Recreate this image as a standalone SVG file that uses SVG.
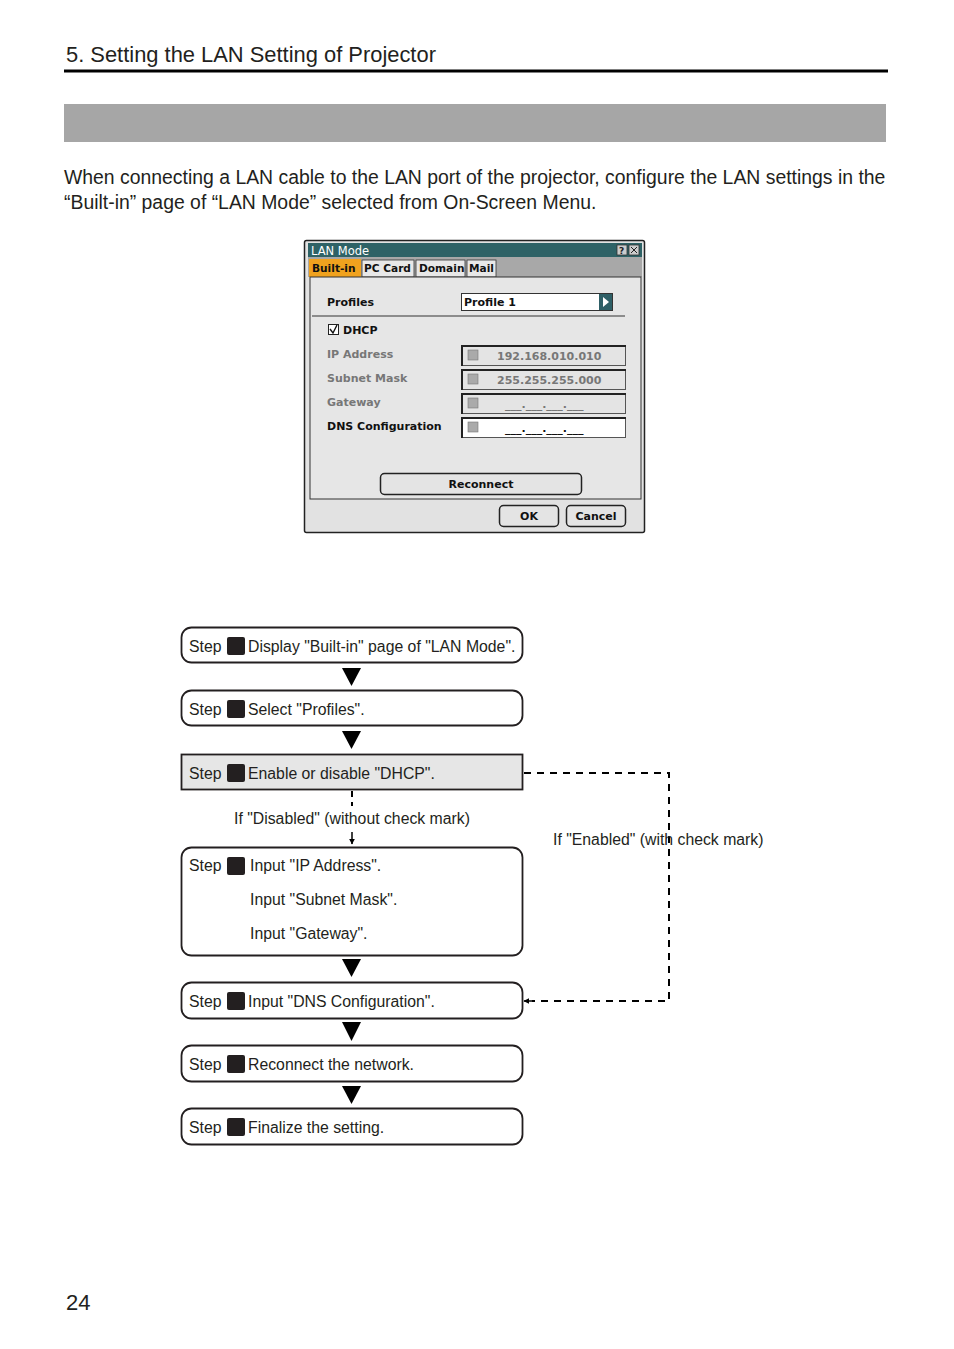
<svg xmlns="http://www.w3.org/2000/svg" width="954" height="1349" viewBox="0 0 954 1349">
<style>
.t{font-family:"Liberation Sans",Arial,sans-serif;fill:#231f20}
.f{font-size:15.8px}
.ui{font-family:"DejaVu Sans","Liberation Sans",sans-serif;font-size:11px;font-weight:bold;fill:#111}
.tab{font-family:"DejaVu Sans","Liberation Sans",sans-serif;font-size:10.6px;font-weight:bold;fill:#111}
.uig{font-family:"DejaVu Sans","Liberation Sans",sans-serif;font-size:11px;fill:#777;font-weight:bold}
.box{fill:#fff;stroke:#231f20;stroke-width:1.8}
.sq{fill:#231f20}
.tri{fill:#000}
.dash{fill:none;stroke:#000;stroke-width:2;stroke-dasharray:7,6}
.fld{fill:#e4e4e4;stroke:#555;stroke-width:1}
</style>
<defs>
<marker id="ah" viewBox="0 0 10 10" refX="9" refY="5" markerWidth="6" markerHeight="6" orient="auto" markerUnits="userSpaceOnUse"><path d="M0,0 L10,5 L0,10 z" fill="#000"/></marker>
</defs>
<rect width="954" height="1349" fill="#fff"/>
<text class="t" x="66" y="62" font-size="21.9">5. Setting the LAN Setting of Projector</text>
<rect x="64" y="69.5" width="824" height="3" fill="#000"/>
<rect x="64" y="104" width="822" height="38" fill="#a6a6a6"/>
<text class="t" x="64" y="184" font-size="19.4">When connecting a LAN cable to the LAN port of the projector, configure the LAN settings in the</text>
<text class="t" x="64" y="209" font-size="19.4">“Built-in” page of “LAN Mode” selected from On-Screen Menu.</text>

<g id="dialog">
<rect x="304.5" y="240.5" width="340" height="292" fill="#e2e2e2" stroke="#222" stroke-width="1.5" rx="2"/>
<rect x="308" y="243" width="334" height="14" fill="#2e6266"/>
<text x="311" y="254.5" font-family="DejaVu Sans,sans-serif" font-size="11.5" fill="#fff">LAN Mode</text>
<rect x="617" y="245" width="10" height="10" fill="#ccc" stroke="#333" stroke-width="0.8"/>
<text x="619" y="254" font-family="DejaVu Sans,sans-serif" font-size="9" font-weight="bold" fill="#222">?</text>
<rect x="629" y="245" width="10" height="10" fill="#ccc" stroke="#333" stroke-width="0.8"/>
<path d="M631,247 L637,253 M637,247 L631,253" stroke="#222" stroke-width="1"/>
<rect x="308" y="257" width="334" height="20" fill="#a8a8a8"/>
<rect x="309" y="259" width="52" height="18" fill="#f0a21e"/>
<text class="tab" x="312" y="272">Built-in</text>
<rect x="362" y="260" width="52" height="17" fill="#e8e8e8" stroke="#333" stroke-width="0.8"/>
<text class="tab" x="364" y="272" font-weight="normal">PC Card</text>
<rect x="416" y="260" width="49" height="17" fill="#e8e8e8" stroke="#333" stroke-width="0.8"/>
<text class="tab" x="419" y="272">Domain</text>
<rect x="467" y="260" width="29" height="17" fill="#e8e8e8" stroke="#333" stroke-width="0.8"/>
<text class="tab" x="469" y="272">Mail</text>
<rect x="310" y="277" width="331" height="222" fill="#e6e6e6" stroke="#333" stroke-width="1"/>
<text class="ui" x="327" y="306">Profiles</text>
<rect x="461.5" y="293.5" width="151" height="17" fill="#fff" stroke="#333" stroke-width="1"/>
<text class="ui" x="464" y="306">Profile 1</text>
<rect x="599" y="294" width="13" height="16" fill="#2e5f66"/>
<path d="M603,297 L609,302 L603,307 z" fill="#fff"/>
<line x1="312" y1="316" x2="625" y2="316" stroke="#333" stroke-width="1"/>
<rect x="328.5" y="324.5" width="10" height="10" fill="#fff" stroke="#222" stroke-width="1"/>
<path d="M330,329 L333,333 L337,325" stroke="#111" stroke-width="1.4" fill="none"/>
<text class="ui" x="343" y="334" font-weight="normal">DHCP</text>
<text class="uig" x="327" y="358">IP Address</text>
<rect class="fld" x="461.5" y="345.5" width="164" height="20"/>
<path d="M462,366 L462,346 L626,346" stroke="#222" stroke-width="2" fill="none"/>
<rect x="468" y="350" width="10" height="10" fill="#aaa" stroke="#777" stroke-width="0.6"/>
<text class="uig" x="497" y="360" fill="#666" font-size="11.5">192.168.010.010</text>
<text class="uig" x="327" y="382">Subnet Mask</text>
<rect class="fld" x="461.5" y="369.5" width="164" height="20"/>
<path d="M462,390 L462,370 L626,370" stroke="#222" stroke-width="2" fill="none"/>
<rect x="468" y="374" width="10" height="10" fill="#aaa" stroke="#777" stroke-width="0.6"/>
<text class="uig" x="497" y="384" fill="#666" font-size="11.5">255.255.255.000</text>
<text class="uig" x="327" y="406">Gateway</text>
<rect class="fld" x="461.5" y="393.5" width="164" height="20"/>
<path d="M462,414 L462,394 L626,394" stroke="#222" stroke-width="2" fill="none"/>
<rect x="468" y="398" width="10" height="10" fill="#aaa" stroke="#777" stroke-width="0.6"/>
<text class="uig" x="505" y="408" fill="#888">___.___.___.___</text>
<text class="ui" x="327" y="430">DNS Configuration</text>
<rect x="461.5" y="417.5" width="164" height="20" fill="#fff" stroke="#555" stroke-width="1"/>
<path d="M462,438 L462,418 L626,418" stroke="#222" stroke-width="2" fill="none"/>
<rect x="468" y="422" width="10" height="10" fill="#aaa" stroke="#777" stroke-width="0.6"/>
<text class="ui" x="505" y="432" font-weight="normal">___.___.___.___</text>
<rect x="380.5" y="473.5" width="201" height="21" rx="4" fill="#e4e4e4" stroke="#222" stroke-width="1.5"/>
<text class="ui" x="481" y="488" text-anchor="middle">Reconnect</text>
<rect x="499.5" y="505.5" width="59" height="21" rx="4" fill="#e4e4e4" stroke="#222" stroke-width="1.5"/>
<text class="ui" x="529" y="520" text-anchor="middle" font-weight="normal">OK</text>
<rect x="566.5" y="505.5" width="59" height="21" rx="4" fill="#e4e4e4" stroke="#222" stroke-width="1.5"/>
<text class="ui" x="596" y="520" text-anchor="middle">Cancel</text>
</g>

<g id="connectors">
<path class="tri" d="M342,668 L361,668 L351.5,686 z"/>
<path class="tri" d="M342,731 L361,731 L351.5,749 z"/>
<line x1="352" y1="791" x2="352" y2="806" stroke="#000" stroke-width="2" stroke-dasharray="6,5"/>
<line x1="352" y1="832" x2="352" y2="844" stroke="#000" stroke-width="1.5" marker-end="url(#ah)"/>
<path class="tri" d="M342,959 L361,959 L351.5,977 z"/>
<path class="tri" d="M342,1022 L361,1022 L351.5,1041 z"/>
<path class="tri" d="M342,1086 L361,1086 L351.5,1104 z"/>
<path class="dash" d="M524,773 L669,773 L669,1001 L532,1001"/>
<line x1="534" y1="1001" x2="524" y2="1001" stroke="#000" stroke-width="1.5" marker-end="url(#ah)"/>
<text class="t f" x="352" y="824" text-anchor="middle">If "Disabled" (without check mark)</text>
<text class="t f" x="553" y="845">If "Enabled" (with check mark)</text>
</g>

<g id="step1">
<rect class="box" x="181.5" y="627.5" width="341" height="35" rx="10"/>
<text class="t f" x="189" y="652">Step</text>
<rect class="sq" x="227" y="637" width="18" height="18" rx="2"/>
<text class="t f" x="248" y="652">Display "Built-in" page of "LAN Mode".</text>
</g>
<g id="step2">
<rect class="box" x="181.5" y="690.5" width="341" height="35" rx="10"/>
<text class="t f" x="189" y="715">Step</text>
<rect class="sq" x="227" y="700" width="18" height="18" rx="2"/>
<text class="t f" x="248" y="715">Select "Profiles".</text>
</g>
<g id="step3">
<rect x="181.5" y="754.5" width="341" height="35" fill="#e6e6e6" stroke="#231f20" stroke-width="1.8"/>
<text class="t f" x="189" y="779">Step</text>
<rect class="sq" x="227" y="764" width="18" height="18" rx="2"/>
<text class="t f" x="248" y="779">Enable or disable "DHCP".</text>
</g>
<g id="step4">
<rect class="box" x="181.5" y="847.5" width="341" height="108" rx="10"/>
<text class="t f" x="189" y="871">Step</text>
<rect class="sq" x="227" y="857" width="18" height="18" rx="2"/>
<text class="t f" x="250" y="871">Input "IP Address".</text>
<text class="t f" x="250" y="905">Input "Subnet Mask".</text>
<text class="t f" x="250" y="939">Input "Gateway".</text>
</g>
<g id="step5">
<rect class="box" x="181.5" y="982.5" width="341" height="36" rx="10"/>
<text class="t f" x="189" y="1007">Step</text>
<rect class="sq" x="227" y="992" width="18" height="18" rx="2"/>
<text class="t f" x="248" y="1007">Input "DNS Configuration".</text>
</g>
<g id="step6">
<rect class="box" x="181.5" y="1045.5" width="341" height="36" rx="10"/>
<text class="t f" x="189" y="1070">Step</text>
<rect class="sq" x="227" y="1055" width="18" height="18" rx="2"/>
<text class="t f" x="248" y="1070">Reconnect the network.</text>
</g>
<g id="step7">
<rect class="box" x="181.5" y="1108.5" width="341" height="36" rx="10"/>
<text class="t f" x="189" y="1133">Step</text>
<rect class="sq" x="227" y="1118" width="18" height="18" rx="2"/>
<text class="t f" x="248" y="1133">Finalize the setting.</text>
</g>

<text class="t" x="66" y="1310" font-size="22">24</text>
</svg>
